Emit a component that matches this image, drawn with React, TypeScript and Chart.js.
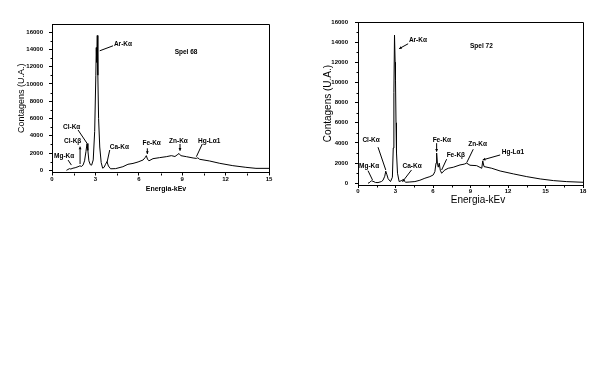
import React, { useEffect, useRef } from "react";
import { Chart, registerables } from "chart.js";

Chart.register(...registerables);

// ---------- data ----------
const leftEnergy = [1.0, 1.1, 1.22, 1.3, 1.45, 1.6, 1.8, 1.93, 2.05, 2.15, 2.25, 2.35, 2.42, 2.48, 2.55, 2.65, 2.74, 2.85, 2.95, 3.03, 3.06, 3.09, 3.13, 3.17, 3.22, 3.3, 3.4, 3.5, 3.6, 3.7, 3.8, 3.9, 4.05, 4.4, 4.9, 5.25, 5.6, 5.95, 6.3, 6.45, 6.52, 6.6, 6.7, 6.98, 7.44, 7.9, 8.25, 8.5, 8.7, 8.78, 8.9, 9.29, 9.75, 9.98, 10.08, 10.2, 10.9, 11.6, 12.5, 13.4, 14.1, 15.0];
const leftCounts = [0, 100, 200, 150, 250, 300, 420, 520, 450, 620, 1100, 2200, 3100, 2300, 1100, 650, 600, 1200, 4500, 11000, 14200, 12500, 15600, 11000, 6000, 2700, 900, 250, 350, 700, 1000, 500, 180, 200, 420, 700, 800, 970, 1200, 1500, 1700, 1300, 1100, 1350, 1470, 1580, 1700, 1600, 1850, 1950, 1700, 1580, 1430, 1380, 1450, 1280, 1080, 810, 540, 350, 230, 230];

const rightEnergy = [0.8, 0.95, 1.07, 1.2, 1.4, 1.6, 1.87, 2.0, 2.14, 2.22, 2.3, 2.41, 2.6, 2.75, 2.82, 2.87, 2.92, 2.97, 3.0, 3.04, 3.08, 3.16, 3.29, 3.45, 3.6, 3.82, 4.15, 4.55, 4.95, 5.35, 5.75, 6.02, 6.15, 6.24, 6.29, 6.35, 6.42, 6.5, 6.58, 6.69, 6.95, 7.22, 7.62, 8.16, 8.5, 8.69, 8.96, 9.49, 9.9, 9.98, 10.08, 10.7, 11.37, 12.44, 13.5, 14.58, 15.65, 16.7, 18.0];
const rightCounts = [0, 100, 250, 200, 80, 70, 170, 300, 700, 1200, 900, 450, 170, 600, 3500, 9000, 14700, 12000, 10200, 6000, 3000, 1000, 170, 250, 350, 100, 130, 170, 300, 500, 660, 830, 1160, 2000, 3000, 2000, 1600, 2000, 1300, 1000, 1320, 1490, 1590, 1820, 1900, 2000, 1790, 1750, 1490, 2220, 1660, 1490, 1220, 930, 660, 430, 265, 165, 100];

const leftXTicks = [0, 3, 6, 9, 12, 15];
const rightXTicks = [0, 3, 6, 9, 12, 15, 18];
const yTicks = [0, 2000, 4000, 6000, 8000, 10000, 12000, 14000, 16000];
const yMinorTicks = [1000, 3000, 5000, 7000, 9000, 11000, 13000, 15000];
const leftXMinor = [1.5, 4.5, 7.5, 10.5, 13.5];
const rightXMinor = [1.5, 4.5, 7.5, 10.5, 13.5, 16.5];

const yTitle = "Contagens (U.A.)";
const xTitle = "Energia-kEv";

type Ann = { text: string; tx: number; ty: number; line?: number[]; head?: boolean };

const leftAnnotations: Ann[] = [
  { text: "Ar-Kα", tx: 4.28, ty: 14610, line: [3.3, 13830, 4.22, 14410] },
  { text: "Cl-Kα", tx: 0.76, ty: 5020, line: [1.8, 4670, 2.42, 3130] },
  { text: "Cl-Kβ", tx: 0.83, ty: 3360, line: [1.94, 730, 1.94, 2740], head: true },
  { text: "Mg-Kα", tx: 0.14, ty: 1690, line: [1.11, 1190, 1.34, 610] },
  { text: "Ca-Kα", tx: 3.99, ty: 2620, line: [3.99, 2350, 3.8, 880] },
  { text: "Fe-Kα", tx: 6.25, ty: 3130, line: [6.59, 2550, 6.59, 1890], head: true },
  { text: "Zn-Kα", tx: 8.09, ty: 3400, line: [8.85, 3050, 8.85, 2270], head: true },
  { text: "Hg-Lα1", tx: 10.09, ty: 3400, line: [10.39, 3050, 9.98, 1580] },
  { text: "Spel 68", tx: 8.48, ty: 13680 },
];

const rightAnnotations: Ann[] = [
  { text: "Ar-Kα", tx: 4.07, ty: 14170, line: [4.01, 13840, 3.29, 13350], head: true },
  { text: "Cl-Kα", tx: 0.35, ty: 4300, line: [1.6, 3580, 2.22, 1320] },
  { text: "Mg-Kα", tx: 0.08, ty: 1720, line: [0.8, 1250, 1.16, 330] },
  { text: "Ca-Kα", tx: 3.56, ty: 1720, line: [4.28, 1320, 3.56, 160], head: true },
  { text: "Fe-Kα", tx: 5.97, ty: 4230, line: [6.29, 3980, 6.29, 3140], head: true },
  { text: "Fe-Kβ", tx: 7.09, ty: 2810, line: [7.09, 2390, 6.69, 1320] },
  { text: "Zn-Kα", tx: 8.82, ty: 3910, line: [9.22, 3380, 8.7, 2050] },
  { text: "Hg-Lα1", tx: 11.5, ty: 3040, line: [11.37, 2810, 9.98, 2320], head: true },
  { text: "Spel 72", tx: 8.96, ty: 13580 },
];

const FONT = "'Liberation Sans', Arial, sans-serif";

const decorPlugin = {
  id: "decor",
  afterDraw(chart: any, _args: any, opts: any) {
    const { ctx, chartArea: a, scales } = chart;
    const xs = scales.x;
    const ys = scales.y;
    const al = (v: number) => Math.round(v) + 0.5;
    ctx.save();
    ctx.strokeStyle = "#000";
    ctx.fillStyle = "#000";
    ctx.lineWidth = 1;
    // top and right frame
    ctx.beginPath();
    ctx.moveTo(al(a.left), al(a.top));
    ctx.lineTo(al(a.right), al(a.top));
    ctx.lineTo(al(a.right), al(a.bottom));
    ctx.stroke();
    // minor ticks
    ctx.beginPath();
    for (const v of opts.yMinor || []) {
      const p = al(ys.getPixelForValue(v));
      ctx.moveTo(al(a.left), p);
      ctx.lineTo(al(a.left) - 2, p);
    }
    for (const v of opts.xMinor || []) {
      const p = al(xs.getPixelForValue(v));
      ctx.moveTo(p, al(a.bottom));
      ctx.lineTo(p, al(a.bottom) + 2);
    }
    ctx.stroke();
    // annotations
    ctx.font = `bold ${opts.annSize}px ${FONT}`;
    ctx.textAlign = "left";
    ctx.textBaseline = "middle";
    for (const an of (opts.annotations || []) as Ann[]) {
      ctx.fillText(an.text, xs.getPixelForValue(an.tx), ys.getPixelForValue(an.ty));
      if (an.line) {
        const x1 = xs.getPixelForValue(an.line[0]);
        const y1 = ys.getPixelForValue(an.line[1]);
        const x2 = xs.getPixelForValue(an.line[2]);
        const y2 = ys.getPixelForValue(an.line[3]);
        ctx.beginPath();
        ctx.moveTo(x1, y1);
        ctx.lineTo(x2, y2);
        ctx.stroke();
        if (an.head) {
          const ang = Math.atan2(y2 - y1, x2 - x1);
          const L = 3;
          ctx.beginPath();
          ctx.moveTo(x2, y2);
          ctx.lineTo(x2 - L * Math.cos(ang - 0.5), y2 - L * Math.sin(ang - 0.5));
          ctx.lineTo(x2 - L * Math.cos(ang + 0.5), y2 - L * Math.sin(ang + 0.5));
          ctx.closePath();
          ctx.fill();
        }
      }
    }
    // x title
    ctx.font = opts.xTitleFont;
    ctx.textAlign = "center";
    ctx.textBaseline = "middle";
    ctx.fillText(opts.xTitleText, (a.left + a.right) / 2 + opts.xTitleDx, a.bottom + opts.xTitleDy);
    ctx.restore();
  },
};

type Props = {
  left: number;
  width: number;
  height: number;
  energy: number[];
  counts: number[];
  xMax: number;
  xTicks: number[];
  xMinor: number[];
  yMin: number;
  yMax: number;
  yAxisWidth: number;
  xAxisHeight: number;
  padTop: number;
  padRight: number;
  yLabelPad: number;
  yTitleSize: number;
  yTitlePad: number;
  xTitleFont: string;
  xTitleDx: number;
  xTitleDy: number;
  annotations: Ann[];
  annSize: number;
};

function SpectrumChart(p: Props) {
  const ref = useRef<HTMLCanvasElement | null>(null);
  useEffect(() => {
    if (!ref.current) return;
    const points = p.energy.map((e, i) => ({ x: e, y: p.counts[i] }));
    const chart = new Chart(ref.current, {
      type: "line",
      data: {
        datasets: [
          {
            data: points,
            borderColor: "#000",
            borderWidth: 1,
            pointRadius: 0,
            tension: 0,
            fill: false,
          },
        ],
      },
      options: {
        responsive: false,
        animation: false,
        events: [],
        layout: { padding: { top: p.padTop, right: p.padRight, left: 0, bottom: 0 } },
        plugins: {
          legend: { display: false },
          tooltip: { enabled: false },
          decor: {
            yMinor: yMinorTicks,
            xMinor: p.xMinor,
            annotations: p.annotations,
            annSize: p.annSize,
            xTitleText: xTitle,
            xTitleFont: p.xTitleFont,
            xTitleDx: p.xTitleDx,
            xTitleDy: p.xTitleDy,
          },
        } as any,
        scales: {
          x: {
            type: "linear",
            min: 0,
            max: p.xMax,
            afterBuildTicks: (s: any) => {
              s.ticks = p.xTicks.map((v) => ({ value: v }));
            },
            afterFit: (s: any) => {
              s.height = p.xAxisHeight;
            },
            grid: { drawOnChartArea: false, drawTicks: true, tickLength: 3, color: "#000", tickColor: "#000" },
            border: { display: true, color: "#000", width: 1 },
            ticks: {
              autoSkip: false,
              maxRotation: 0,
              padding: 0,
              color: "#000",
              font: { family: FONT, size: 6, weight: "bold" },
              callback: (v: any) => String(v),
            },
          },
          y: {
            type: "linear",
            min: p.yMin,
            max: p.yMax,
            afterBuildTicks: (s: any) => {
              s.ticks = yTicks.map((v) => ({ value: v }));
            },
            afterFit: (s: any) => {
              s.width = p.yAxisWidth;
            },
            grid: { drawOnChartArea: false, drawTicks: true, tickLength: 3, color: "#000", tickColor: "#000" },
            border: { display: true, color: "#000", width: 1 },
            title: {
              display: true,
              text: yTitle,
              color: "#000",
              font: { family: FONT, size: p.yTitleSize },
              padding: { top: p.yTitlePad, bottom: 0 },
            },
            ticks: {
              autoSkip: false,
              padding: p.yLabelPad,
              color: "#000",
              font: { family: FONT, size: 6, weight: "bold" },
              callback: (v: any) => String(v),
            },
          },
        },
      },
      plugins: [decorPlugin as any],
    });
    return () => chart.destroy();
  }, []);
  return (
    <div style={{ position: "absolute", left: p.left, top: 0, width: p.width, height: p.height }}>
      <canvas ref={ref} width={p.width} height={p.height} style={{ display: "block" }} />
    </div>
  );
}

export default function App() {
  return (
    <div style={{ position: "absolute", left: 0, top: 0, width: 603, height: 388, background: "#fff" }}>
      <SpectrumChart
        left={0}
        width={300}
        height={200}
        energy={leftEnergy}
        counts={leftCounts}
        xMax={15}
        xTicks={leftXTicks}
        xMinor={leftXMinor}
        yMin={-250}
        yMax={16930}
        yAxisWidth={52}
        xAxisHeight={27.5}
        padTop={24}
        padRight={31}
        yLabelPad={6}
        yTitleSize={9}
        yTitlePad={16}
        xTitleFont={`bold 7px ${FONT}`}
        xTitleDx={5.5}
        xTitleDy={17}
        annotations={leftAnnotations}
        annSize={6.5}
      />
      <SpectrumChart
        left={300}
        width={303}
        height={210}
        energy={rightEnergy}
        counts={rightCounts}
        xMax={18}
        xTicks={rightXTicks}
        xMinor={rightXMinor}
        yMin={-170}
        yMax={16000}
        yAxisWidth={58}
        xAxisHeight={25}
        padTop={22}
        padRight={20}
        yLabelPad={7}
        yTitleSize={10}
        yTitlePad={22}
        xTitleFont={`10px ${FONT}`}
        xTitleDx={7.5}
        xTitleDy={15}
        annotations={rightAnnotations}
        annSize={6.5}
      />
    </div>
  );
}
